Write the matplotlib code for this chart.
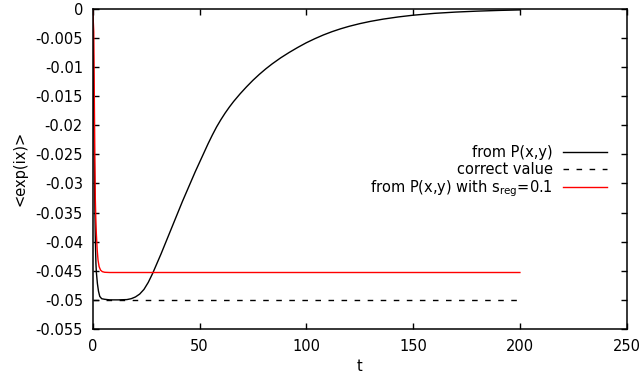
import numpy as np
import matplotlib
matplotlib.use("Agg")
import matplotlib.pyplot as plt

plt.rcParams['axes.unicode_minus'] = False
plt.rcParams['mathtext.fontset'] = 'dejavusans'

# black curve: from P(x,y)
t_p = [0, 0.3, 0.6, 0.9, 1.2, 1.5, 1.7, 2.2, 2.7, 3.3, 4.2, 5.6, 8, 12, 16,
       18, 20, 22, 24, 26, 28, 30, 32, 34, 36, 38, 40, 42, 44, 46, 48, 50,
       52, 54, 56, 58, 60, 62, 64, 66, 69, 72, 75, 78, 81, 84, 88, 92, 96,
       100, 104, 108, 112, 116, 120, 125, 130, 136, 143, 150, 160, 170, 180,
       190, 200]
y_p = [0, -0.008, -0.020, -0.031, -0.039, -0.0437, -0.0452, -0.0472, -0.0485,
       -0.0494, -0.0498, -0.0499, -0.0500, -0.0500, -0.04995,
       -0.0498, -0.0495, -0.0490, -0.0482, -0.0470, -0.0455, -0.0438, -0.0421,
       -0.0403, -0.0385, -0.0367, -0.0349, -0.0331, -0.0314, -0.0297, -0.0280,
       -0.0264, -0.0248, -0.0232, -0.0217, -0.0203, -0.01906, -0.01792,
       -0.01688, -0.01592, -0.01462, -0.01342, -0.01230, -0.01128, -0.01034,
       -0.00948, -0.00844, -0.00751, -0.00665, -0.00585, -0.00515, -0.00451,
       -0.00395, -0.00346, -0.00303, -0.00257, -0.00218, -0.00179, -0.00142,
       -0.00112, -0.0008, -0.00058, -0.00042, -0.0003, -0.00021]

# red curve: regularised
t_reg = [0, 0.5, 0.8, 1.0, 1.2, 1.45, 1.7, 2.1, 2.5, 3.0, 3.7, 4.5, 5.6, 8,
         50, 100, 150, 200]
y_reg = [0, -0.004, -0.017, -0.025, -0.0323, -0.036, -0.0386, -0.0414,
         -0.0432, -0.0443, -0.0449, -0.04515, -0.04526, -0.0453,
         -0.0453, -0.0453, -0.0453, -0.0453]

# correct value
t_exact = [0, 200]
y_exact = [-0.05, -0.05]

fig = plt.figure(figsize=(6.42, 3.81), dpi=100)
ax = fig.add_axes([0.1444, 0.1365, 0.8318, 0.8407])

ax.plot(t_p, y_p, color='black', lw=1.0, label='from P(x,y)')
ax.plot(t_exact, y_exact, color='black', lw=1.0, linestyle=(0, (4, 5.4)),
        label='correct value')
ax.plot(t_reg, y_reg, color='#ff0000', lw=1.0,
        label=r'from P(x,y) with $\mathregular{s_{reg}}$=0.1')

ax.set_xlim(0, 250)
ax.set_ylim(-0.055, 0)
ax.set_xticks([0, 50, 100, 150, 200, 250])
ax.set_yticks(np.round(np.arange(-0.055, 0.0001, 0.005), 3))
ax.set_yticklabels(['-0.055', '-0.05', '-0.045', '-0.04', '-0.035', '-0.03',
                    '-0.025', '-0.02', '-0.015', '-0.01', '-0.005', '0'])
ax.tick_params(direction='in', top=True, right=True, length=4.5, width=1.0,
               labelsize=10.5, pad=7)
for s in ax.spines.values():
    s.set_linewidth(1.1)

ax.set_xlabel('t', fontsize=10.5, labelpad=4)
ax.set_ylabel('<exp(ix)>', fontsize=10.5, labelpad=6)

leg = ax.legend(loc='center right', bbox_to_anchor=(0.9637, 0.49),
                frameon=False, markerfirst=False, fontsize=10.5,
                borderpad=0, borderaxespad=0, handlelength=3.05,
                handletextpad=0.68, labelspacing=0.12)

fig.savefig('out.png', dpi=100)
